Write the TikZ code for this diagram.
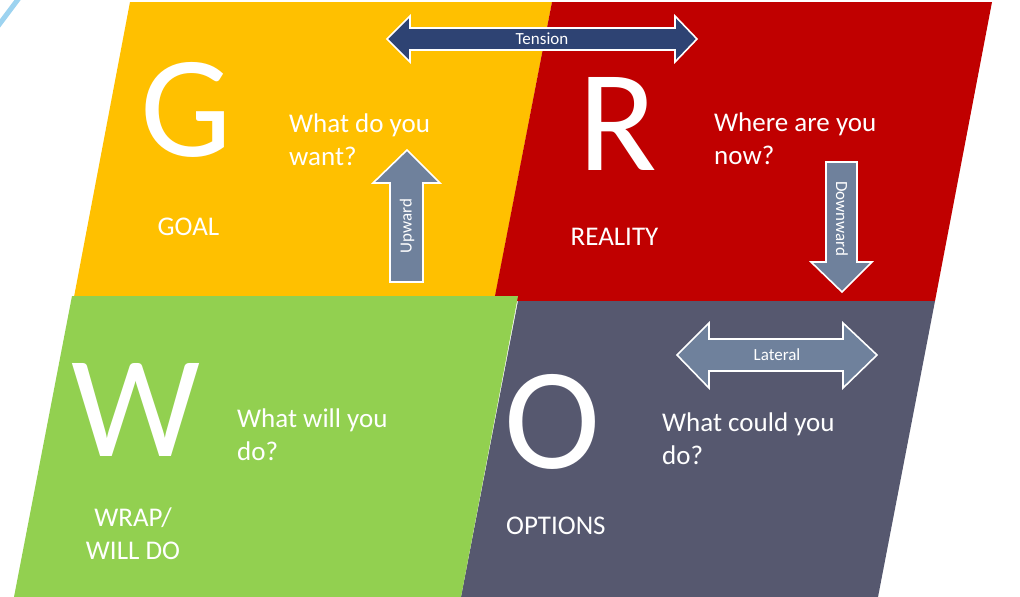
\documentclass[tikz,border=0pt]{standalone}
\usepackage{fontspec}
\setmainfont{Carlito}
\definecolor{goalY}{HTML}{FFC000}
\definecolor{realR}{HTML}{C00000}
\definecolor{wrapG}{HTML}{92D050}
\definecolor{optS}{HTML}{56586F}
\definecolor{tensB}{HTML}{2E4373}
\definecolor{slateA}{HTML}{6F819C}
\definecolor{skyL}{HTML}{9DD3F0}
\begin{document}
\begin{tikzpicture}[x=1pt,y=-1pt,
  bigl/.style={text=white,inner sep=0pt,font=\fontsize{145}{145}\selectfont},
  qtext/.style={text=white,inner sep=0pt,align=left,font=\fontsize{27}{33}\selectfont},
  lbl/.style={text=white,inner sep=0pt,align=center,font=\fontsize{27}{33}\selectfont},
  arrowbox/.style={draw=white,line width=1.6pt,line join=miter},
  atext/.style={text=white,inner sep=0pt,font=\fontsize{17}{17}\selectfont}]
\useasboundingbox (0,0) rectangle (1020,597);
\fill[white] (0,0) rectangle (1020,597);
% light blue fragment
\draw[skyL,line width=5pt] (19,-2) -- (-2,26);
% panels
\fill[goalY] (130,2) -- (552,2) -- (495,297) -- (74,297) -- cycle;
\fill[realR] (552,2) -- (992,2) -- (935,301) -- (494,301) -- cycle;
\fill[optS] (518,301) -- (935,301) -- (878,597) -- (461,597) -- cycle;
\fill[wrapG] (72,296) -- (518,296) -- (461,597) -- (14,597) -- cycle;
% big letters
\node[bigl] (gl) at (186,110) {G};
\node[bigl] (rl) at (618,124) {R};
\node[bigl] (wl) at (136,410) {W};
\node[bigl] (ol) at (552,422) {O};
% questions (base anchor = last line)
\node[qtext,anchor=base west] (gq) at (289,165) {What do you\\want?};
\node[qtext,anchor=base west] (rq) at (714,164) {Where are you\\now?};
\node[qtext,anchor=base west] (wq) at (237,460) {What will you\\do?};
\node[qtext,anchor=base west] (oq) at (662,464) {What could you\\do?};
% labels
\node[lbl,anchor=base] (goal) at (188.5,235) {GOAL};
\node[lbl,anchor=base] (real) at (614.5,245) {REALITY};
\node[lbl,anchor=base] (wrap) at (133,559) {WRAP/\\WILL DO};
\node[lbl,anchor=base west] (opt) at (506,534) {OPTIONS};
% Tension arrow
\filldraw[arrowbox,fill=tensB] (387,39) -- (410,16) -- (410,28) -- (675,28) -- (675,16) -- (697,39)
  -- (675,62) -- (675,50) -- (410,50) -- (410,62) -- cycle;
\node[atext] (tens) at (542,39) {Tension};
% Upward arrow
\filldraw[arrowbox,fill=slateA] (407,150) -- (440,183) -- (423,183) -- (423,282) -- (390,282) -- (390,183) -- (373,183) -- cycle;
\node[atext,rotate=90] (up) at (407,226) {Upward};
% Downward arrow
\filldraw[arrowbox,fill=slateA] (826,162) -- (857,162) -- (857,262) -- (872,262) -- (842,292) -- (811,262) -- (826,262) -- cycle;
\node[atext,rotate=-90] (down) at (842,219) {Downward};
% Lateral arrow
\filldraw[arrowbox,fill=slateA] (677,355) -- (709,323) -- (709,339) -- (843,339) -- (843,323) -- (877,355)
  -- (843,388) -- (843,371) -- (709,371) -- (709,388) -- cycle;
\node[atext] (lat) at (777,355) {Lateral};
\end{tikzpicture}
\end{document}
